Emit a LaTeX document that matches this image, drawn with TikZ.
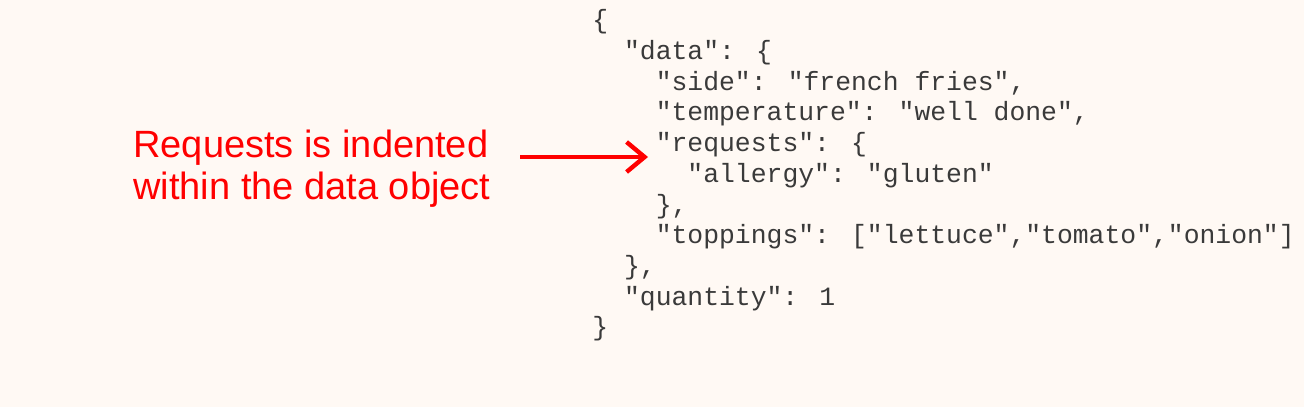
\documentclass[tikz,border=0pt]{standalone}
\usepackage{fontspec}
\setmainfont{Liberation Sans}
\newfontfamily\codefont{Liberation Mono}
\usetikzlibrary{arrows.meta}
\definecolor{bg}{HTML}{FFF9F4}
\definecolor{ink}{HTML}{3A3A3A}
\definecolor{note}{HTML}{FF0000}
\begin{document}
\begin{tikzpicture}[x=0.5pt,y=-0.5pt,
  codeline/.style={anchor=west,inner sep=0pt,font=\codefont\fontsize{13.2pt}{15pt}\selectfont,text=ink},
  notetext/.style={anchor=west,inner sep=0pt,align=left,text=note,font=\fontsize{19pt}{21pt}\selectfont}]
\fill[bg] (0,0) rectangle (1304,407);
\useasboundingbox (0,0) rectangle (1304,407);
\node[codeline] (l1) at (592,22) {\{};
\node[codeline] (l2) at (592,52.7) {\ \ "data": \{};
\node[codeline] (l3) at (592,83.4) {\ \ \ \ "side": "french fries",};
\node[codeline] (l4) at (592,114.1) {\ \ \ \ "temperature": "well done",};
\node[codeline] (l5) at (592,144.8) {\ \ \ \ "requests": \{};
\node[codeline] (l6) at (592,175.5) {\ \ \ \ \ \ "allergy": "gluten"};
\node[codeline] (l7) at (592,206.2) {\ \ \ \ \},};
\node[codeline] (l8) at (592,236.9) {\ \ \ \ "toppings": ["lettuce","tomato","onion"]};
\node[codeline] (l9) at (592,267.6) {\ \ \},};
\node[codeline] (l10) at (592,298.3) {\ \ "quantity": 1};
\node[codeline] (l11) at (592,329) {\}};
\node[notetext] (n) at (133,169) {Requests is indented\\within the data object};
\coordinate (a1) at (520,157);
\coordinate (a2) at (648,157);
\draw[note,line width=2.2pt,-{Straight Barb[length=9pt,width=15pt,line width=2.2pt]}] (a1) -- (a2);
\end{tikzpicture}
\end{document}
